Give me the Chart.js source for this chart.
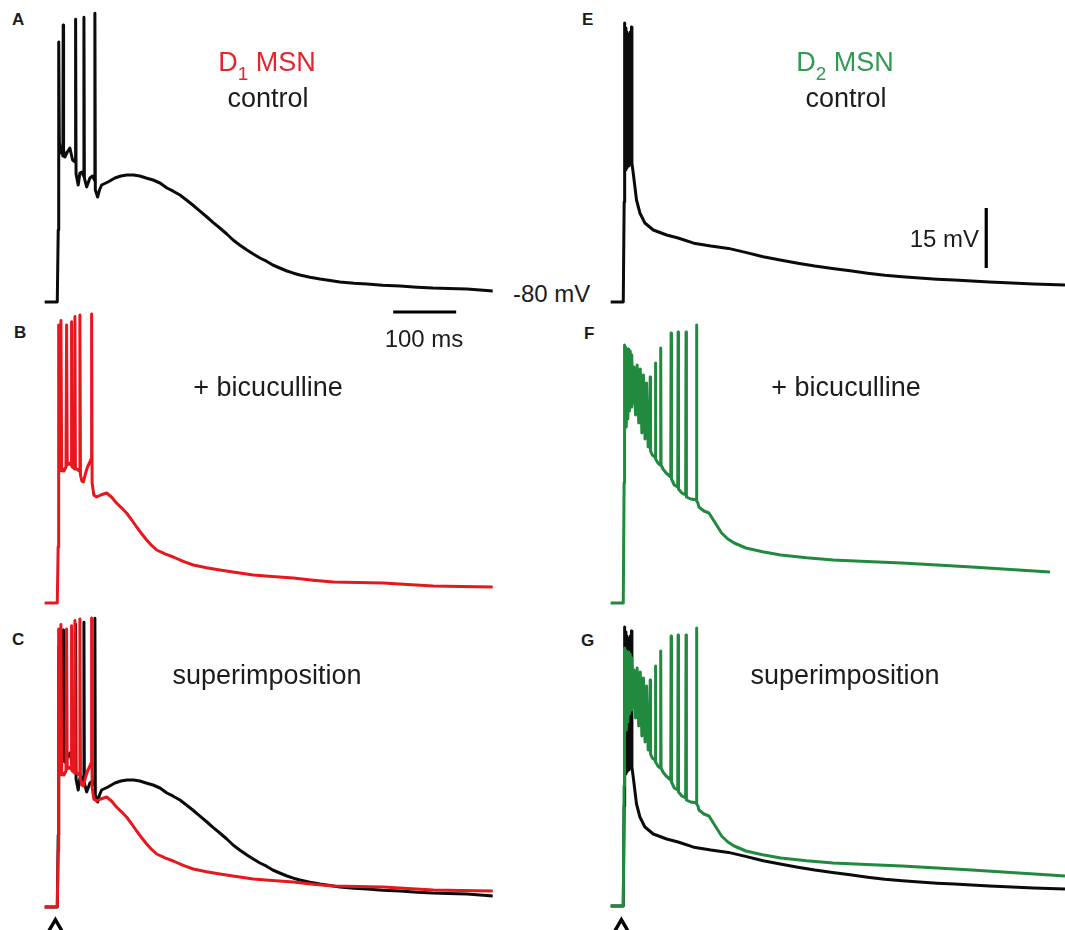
<!DOCTYPE html>
<html><head><meta charset="utf-8">
<script src="https://cdn.jsdelivr.net/npm/chart.js@4.4.1/dist/chart.umd.min.js"></script>
<style>
html,body{margin:0;padding:0;background:#fff;}
#fig{position:relative;width:1065px;height:930px;overflow:hidden;background:#fff;font-family:"Liberation Sans",Arial,Helvetica,sans-serif;}
#fig canvas{position:absolute;}
.t{position:absolute;white-space:nowrap;color:#1c1c1c;}
</style></head><body><div id="fig"></div>
<script>
// ---- Panel A: D1 MSN, control (time in ms after stimulus, membrane potential in mV)
const d1ControlTime = [-21,-1,0,0.5,1.0,1.6,2.3,4.3,6.8,7.9, 8.4,9.0,11.1,15,19,23.3,27.5,28.1,28.8,32.2, 34.9,38,40.7,41.3,42,45.6,50.8,55,58,58.7, 59.4,63,66,69.4,79.4,90.5,100,109.5,120,130, 140,151,162,173,183,193.7,204,214,225,236.5, 247,257,268,278,289,300,310,320.6,331,341, 352,363.5,374,384,400,416,432,447.6,470,490.5, 515,543,570,595,620,649,670,690];
const d1ControlMv = [-80,-80,-80,-62,-46,-15,-40,-42.75,-42,-43.5, -10.75,-42,-43.75,-42.5,-41.5,-44.5,-45,-9.3,-48,-50.75, -47.75,-47.5,-48.5,-8.8,-49,-51.25,-49,-48.5,-49.5,-7.8, -52,-53.75,-52,-50.75,-50,-49,-48.5,-48.25,-48.25,-48.5, -49,-49.5,-50.25,-51.5,-52.3,-53.25,-54.5,-55.75,-57.2,-58.75, -60.2,-61.5,-63,-64.5,-65.8,-67,-68,-69,-69.8,-70.75, -71.5,-72.25,-72.8,-73.25,-73.8,-74.25,-74.6,-75,-75.3,-75.5, -75.8,-76,-76.3,-76.5,-76.6,-76.75,-77,-77.25];

// ---- Panel B: D1 MSN, + bicuculline
const d1BicTime = [-21,-1,0,0.4,0.9,1.5,2.3,3.5,4.8,6.0, 8,9.5,12.8,13.8,14.8,17,20.8,21.7,22.6,24, 26.2,27,27.8,30,34,34.9,35.8,38,40.5,44, 47,50,52.7,53.5,54.3,57,61.4,68,77.3,85, 93,101,109,117,125,133,140.8,148.7,156.7,170, 183,199,214.8,236,257,283,310,340,373.5,405, 437,476,516,555,595.7,640,690];
const d1BicMv = [-80,-80,-80,-66,-52,-10.5,-47,-46,-9.4,-47, -46.5,-47,-46,-10.5,-45.5,-45,-45.5,-9.7,-46,-46, -46.5,-8.4,-46.5,-46.5,-47,-8,-48,-49.5,-49.75,-47.5, -46,-45,-44,-7.75,-50,-53,-53.5,-53,-52.5,-53.5, -55,-56.2,-57.5,-59.2,-61,-62.7,-64.25,-65.6,-66.75,-67.7, -68.5,-69.6,-70.5,-71.2,-71.75,-72.4,-73,-73.4,-73.75,-74.3, -74.75,-74.9,-75,-75.4,-75.75,-75.9,-76];

// ---- Panel E: D2 MSN, control
const d2ControlTime = [-21,-1,0,0.4,0.8,1.6,2.4,3.2,4.0,4.8, 5.6,6.4,7.2,8.0,8.8,9.6,10.4,11.2,12.0,12.7, 14.8,17.5,20,25.4,33.3,46.6,67.8,86,110.8,138, 165.9,193,221,248,276,303,331,359,386.7,414, 441.8,469,496.8,524,552,580,607,650,700];
const d2ControlMv = [-80,-80,-80,-55,-10.25,-47,-11.5,-47,-12.5,-46.5, -13,-46,-13.5,-46,-13,-45.5,-12.5,-45.5,-11.25,-45.25, -47.75,-51.25,-54.5,-57.75,-60.25,-62,-63.25,-64,-65.3,-66, -66.6,-67.6,-68.7,-69.5,-70.3,-71,-71.6,-72.2,-72.8,-73.3, -73.7,-74,-74.3,-74.5,-74.75,-75,-75.2,-75.5,-75.75];

// ---- Panel F: D2 MSN, + bicuculline
const d2BicTime = [-21,-1,0,0.3,0.6,1.5,2.5,3.8,5,6.3, 7.5,8.8,10,11.3,12.5,14,16,18.5,21,23.5, 26,28.5,31,33.5,36,38.5,41.2,41.7,42.3,45, 49.5,50,50.6,54,57.8,58.4,59,62,67,74.3, 74.9,75.5,80,85.4,86,86.6,92,98,98.6,99.2, 106,114.6,115.2,115.8,117.5,119,127,135,145,155, 165,175,193.6,220,249,290,332,385,441,497, 552,614,676,700];
const d2BicMv = [-80,-80,-80,-50,-15.5,-38,-16,-36,-16.5,-34, -16.5,-32,-17,-31,-18,-30,-21,-33,-20.5,-35, -21.5,-37.5,-23,-39,-25,-41,-41,-23.5,-42,-43, -43.5,-20,-44,-45,-45.5,-16.25,-45.5,-46.5,-47.5,-48.5, -12.5,-49,-50.5,-51,-12.25,-51.5,-52.5,-53,-12.25,-53.5, -54,-54.2,-10.5,-54.5,-55,-56,-57,-57.5,-60,-62.5, -64,-65,-66.25,-67.2,-68,-68.7,-69.25,-69.6,-70,-70.5, -71,-71.6,-72.25,-72.5];

// ---- Scale bars and stimulus
const timeBarMs = [532, 632];       // 100 ms
const timeBarMv = [-82.5, -82.5];
const voltBarMs = [575, 575];
const voltBarMv = [-71.5, -56.5];   // 15 mV
const stimulusMs = [-4];

const BLACK = '#0b0b0b', RED = '#e8161d', GREEN = '#218a3e';
const PX_PER_MS = 460 / 730, PX_PER_MV = 4;

const pts = (ts, vs) => ts.map((t, i) => ({x: t, y: vs[i]}));
const trace = (ts, vs, color) => ({data: pts(ts, vs), borderColor: color, borderWidth: 3});
const marker = () => ({data: stimulusMs.map(t => ({x: t, y: null})), showLine: false, pointStyle: 'triangle',
  pointRadius: 10, pointBorderWidth: 3.4, pointBorderColor: '#000', pointBackgroundColor: '#fff', clip: false, isMarker: true});

const panels = [
  {left: 39,  top: 0,   width: 460, height: 320, yMax: -4.5,  sets: [trace(d1ControlTime, d1ControlMv, BLACK), {data: pts(timeBarMs, timeBarMv), borderColor: '#000', borderWidth: 3.2}]},
  {left: 39,  top: 310, width: 460, height: 300, yMax: -6.75, sets: [trace(d1BicTime, d1BicMv, RED)]},
  {left: 39,  top: 612, width: 460, height: 318, yMax: -6.25, sets: [trace(d1BicTime, d1BicMv, RED), trace(d1ControlTime, d1ControlMv, BLACK), marker()]},
  {left: 605, top: 0,   width: 460, height: 320, yMax: -4.5,  sets: [trace(d2ControlTime, d2ControlMv, BLACK), {data: pts(voltBarMs, voltBarMv), borderColor: '#000', borderWidth: 3.2}]},
  {left: 605, top: 310, width: 445, height: 300, yMax: -6.75, sets: [trace(d2BicTime, d2BicMv, GREEN)]},
  {left: 605, top: 612, width: 460, height: 318, yMax: -6.5,  sets: [trace(d2BicTime, d2BicMv, GREEN), trace(d2ControlTime, d2ControlMv, BLACK), marker()]}
];

const fig = document.getElementById('fig');
panels.forEach(p => {
  const c = document.createElement('canvas');
  c.width = p.width; c.height = p.height;
  c.style.left = p.left + 'px'; c.style.top = p.top + 'px';
  c.style.width = p.width + 'px'; c.style.height = p.height + 'px';
  fig.appendChild(c);
  const xMin = -30, xMax = xMin + p.width / PX_PER_MS;
  const yMin = p.yMax - p.height / PX_PER_MV;
  p.sets.forEach(s => { if (s.isMarker) s.data.forEach(d => d.y = yMin + 0.1); });
  new Chart(c, {
    type: 'line',
    data: {datasets: p.sets},
    options: {
      responsive: false, animation: false, devicePixelRatio: 1, events: [],
      layout: {padding: 0, autoPadding: false},
      plugins: {legend: {display: false}, tooltip: {enabled: false}},
      elements: {point: {radius: 0}, line: {tension: 0, borderJoinStyle: 'round', borderCapStyle: 'butt'}},
      scales: {
        x: {type: 'linear', min: xMin, max: xMax, display: false},
        y: {type: 'linear', min: yMin, max: p.yMax, display: false}
      }
    }
  });
});

function addText(html, x, baseline, size, opt = {}) {
  const d = document.createElement('div');
  d.className = 't';
  d.innerHTML = html;
  d.style.fontSize = size + 'px';
  d.style.lineHeight = size + 'px';
  d.style.top = (baseline - 0.8465 * size) + 'px';
  d.style.left = x + 'px';
  if (opt.weight) d.style.fontWeight = opt.weight;
  if (opt.color) d.style.color = opt.color;
  if (opt.align === 'center') d.style.transform = 'translateX(-50%)';
  if (opt.align === 'right') d.style.transform = 'translateX(-100%)';
  fig.appendChild(d);
}
const sub = n => '<span style="font-size:19px;line-height:0;position:relative;top:9px">' + n + '</span>';

addText('A', 12, 25, 17, {weight: 'bold'});
addText('B', 14, 338, 17, {weight: 'bold'});
addText('C', 12, 645, 17, {weight: 'bold'});
addText('E', 582, 25, 17, {weight: 'bold'});
addText('F', 584, 339, 17, {weight: 'bold'});
addText('G', 581, 646, 17, {weight: 'bold'});

addText('D' + sub(1) + ' MSN', 267, 72, 27, {align: 'center', color: '#e3262b'});
addText('control', 268, 108, 27, {align: 'center'});
addText('+ bicuculline', 268, 397, 27, {align: 'center'});
addText('superimposition', 267, 685, 27, {align: 'center'});

addText('D' + sub(2) + ' MSN', 845, 72, 27, {align: 'center', color: '#2f9a52'});
addText('control', 846, 108, 27, {align: 'center'});
addText('+ bicuculline', 846, 397, 27, {align: 'center'});
addText('superimposition', 845, 685, 27, {align: 'center'});

addText('-80 mV', 513, 302, 24);
addText('15 mV', 979, 247, 24, {align: 'right'});
addText('100 ms', 424, 347, 24, {align: 'center'});
</script></body></html>
